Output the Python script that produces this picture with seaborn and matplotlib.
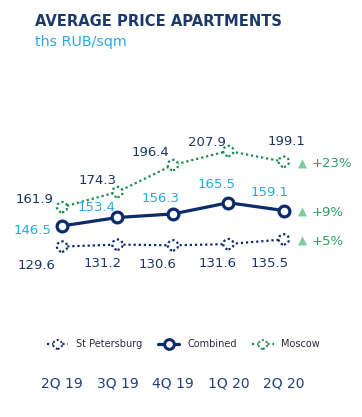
import matplotlib
matplotlib.use("Agg")
import matplotlib.pyplot as plt
import seaborn as sns
import pandas as pd
from matplotlib.lines import Line2D

quarters = ["2Q 19", "3Q 19", "4Q 19", "1Q 20", "2Q 20"]
st_petersburg = [129.6, 131.2, 130.6, 131.6, 135.5]
combined = [146.5, 153.4, 156.3, 165.5, 159.1]
moscow = [161.9, 174.3, 196.4, 207.9, 199.1]
changes = ["+23%", "+9%", "+5%"]

NAVY = "#0c2b6b"
GREEN = "#1b8a4e"
LBLUE = "#27aae1"
TRI = "#7fcba3"
PCT = "#2f9e6a"
LABEL = "#1c3566"

sns.set_theme(style="white")
plt.rcParams["font.family"] = ["DejaVu Sans"]

df = pd.DataFrame({"x": range(len(quarters)), "spb": st_petersburg,
                   "comb": combined, "msk": moscow})

fig = plt.figure(figsize=(3.62, 4.17), dpi=100)
ax = fig.add_axes([0.05, 0.1127, 0.93, 0.6])
ax.set_xlim(-0.793, 5.28)
ax.set_ylim(28.5, 233.4)

DOT = (0, (1, 1.3))
sns.lineplot(data=df, x="x", y="msk", ax=ax, color=GREEN, lw=1.6,
             linestyle=DOT, zorder=2)
sns.lineplot(data=df, x="x", y="spb", ax=ax, color=NAVY, lw=1.6,
             linestyle=DOT, zorder=2)
sns.lineplot(data=df, x="x", y="comb", ax=ax, color=NAVY, lw=2.3, zorder=3)

ax.scatter(df["x"], df["msk"], s=55, facecolors="white", edgecolors=GREEN,
           linewidths=1.6, linestyle=(0, (1, 1.2)), zorder=4)
ax.scatter(df["x"], df["spb"], s=55, facecolors="white", edgecolors=NAVY,
           linewidths=1.6, linestyle=(0, (1, 1.2)), zorder=4)
ax.scatter(df["x"], df["comb"], s=60, facecolors="white", edgecolors=NAVY,
           linewidths=2.3, zorder=5)

fs = 9.5
m_off = [(-0.49, 6.6), (-0.36, 9), (-0.40, 10), (-0.38, 6.6), (0.05, 16.4)]
for i, v in enumerate(moscow):
    dx, dy = m_off[i]
    ax.text(i + dx, v + dy, f"{v:.1f}", ha="center", va="center", color=LABEL, fontsize=fs)
c_off = [(-0.54, -4), (-0.38, 8), (-0.22, 13), (-0.22, 14.8), (-0.25, 14.8)]
for i, v in enumerate(combined):
    dx, dy = c_off[i]
    ax.text(i + dx, v + dy, f"{v:.1f}", ha="center", va="center", color=LBLUE, fontsize=fs)
s_off = [(-0.47, -15.6), (-0.27, -15.6), (-0.27, -15.6), (-0.2, -15.6), (-0.25, -19.7)]
for i, v in enumerate(st_petersburg):
    dx, dy = s_off[i]
    ax.text(i + dx, v + dy, f"{v:.1f}", ha="center", va="center", color=LABEL, fontsize=fs)

for val, txt in zip([moscow[-1], combined[-1], st_petersburg[-1]], changes):
    ax.text(4.34, val - 1.5, "▲", ha="center", va="center", color=TRI, fontsize=8.5)
    ax.text(4.50, val - 1.5, txt, ha="left", va="center", color=PCT, fontsize=fs)

ax.set_xticks(range(len(quarters)))
ax.set_xticklabels(quarters)
ax.tick_params(axis="x", length=0, pad=5, labelsize=10, labelcolor="#1f3f7a")
ax.set_yticks([])
ax.set_xlabel("")
ax.set_ylabel("")
for s in ax.spines.values():
    s.set_visible(False)

h_s = (Line2D([0], [0], color=NAVY, lw=1.6, linestyle=DOT),
       ax.scatter([], [], s=40, facecolors="white", edgecolors=NAVY, linewidths=1.4,
                  linestyle=(0, (1, 1.2))))
h_c = Line2D([0], [0], color=NAVY, lw=2.3, marker="o", markersize=7,
             markerfacecolor="white", markeredgewidth=2.2)
h_m = (Line2D([0], [0], color=GREEN, lw=1.6, linestyle=DOT),
       ax.scatter([], [], s=40, facecolors="white", edgecolors=GREEN, linewidths=1.4,
                  linestyle=(0, (1, 1.2))))
leg = fig.legend([h_s, h_c, h_m], ["St Petersburg", "Combined", "Moscow"],
                 loc="center", bbox_to_anchor=(0.507, 1 - 344 / 417), ncol=3,
                 frameon=False, fontsize=7, handlelength=2.2, columnspacing=1.6,
                 handletextpad=0.8)
for t in leg.get_texts():
    t.set_color("#2b2b3b")

fig.text(35 / 362, 1 - 21 / 417, "AVERAGE PRICE APARTMENTS", ha="left", va="center",
         fontsize=10.65, fontweight="bold", color="#1b3a6b")
fig.text(35 / 362, 1 - 42 / 417, "ths RUB/sqm", ha="left", va="center",
         fontsize=10.3, color=LBLUE)

fig.savefig("out.png", dpi=100)
